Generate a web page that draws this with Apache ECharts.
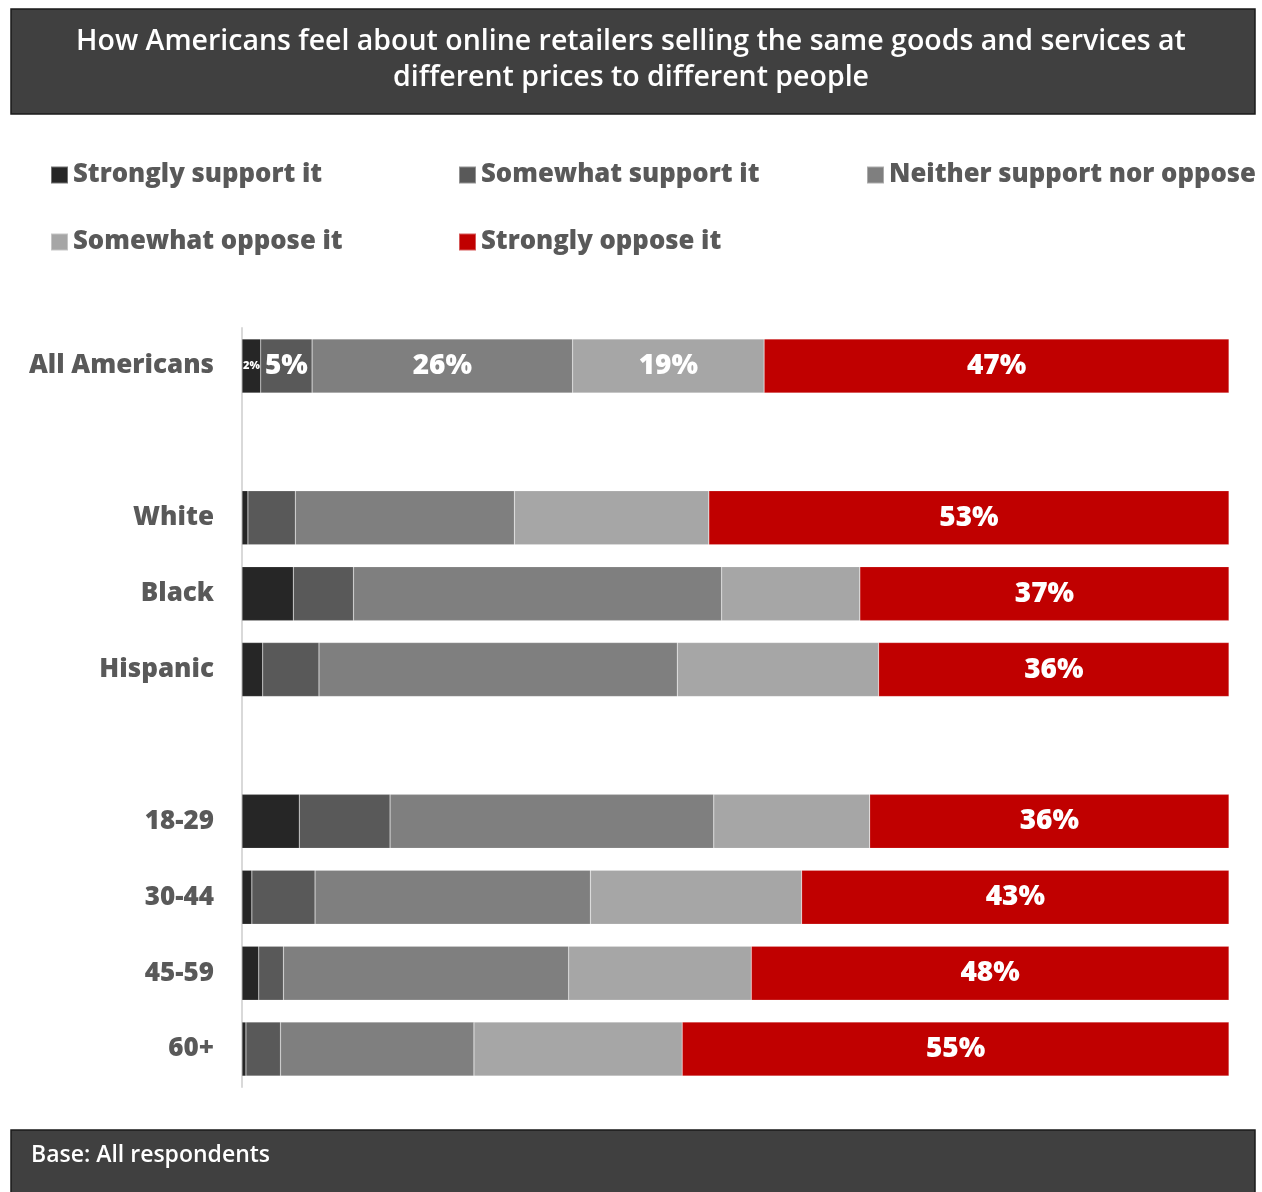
<!DOCTYPE html>
<html>
<head>
<meta charset="utf-8">
<script src="https://cdn.jsdelivr.net/npm/echarts@6/dist/echarts.min.js"></script>
<style>
  html, body { margin: 0; padding: 0; background: #fff; }
  #chart { width: 1262px; height: 1192px; }
</style>
</head>
<body>
<div id="chart"></div>
<script>
// rows top to bottom, '' rows are spacers between groups
const categories = ["All Americans", "", "White", "Black", "Hispanic", "", "18-29", "30-44", "45-59", "60+"];
const seriesNames = ["Strongly support it", "Somewhat support it", "Neither support nor oppose", "Somewhat oppose it", "Strongly oppose it"];
const colors = ["#262626", "#595959", "#7f7f7f", "#a6a6a6", "#c00000"];

const stronglySupport = [1.9, null, 0.6, 5.2, 2.1, null, 5.8, 1.0, 1.7, 0.4];
const somewhatSupport = [5.2, null, 4.8, 6.1, 5.7, null, 9.2, 6.4, 2.5, 3.5];
const neither = [26.4, null, 22.2, 37.3, 36.3, null, 32.8, 27.9, 28.9, 19.6];
const somewhatOppose = [19.4, null, 19.7, 14.0, 20.4, null, 15.8, 21.4, 18.5, 21.1];
const stronglyOppose = [47.1, null, 52.7, 37.4, 35.5, null, 36.4, 43.3, 48.4, 55.4];

// rows where every segment gets a value label (the last series is always labelled)
const showAllRow = [0];

const font = "'Open Sans', Lato, sans-serif";

const allData = [stronglySupport, somewhatSupport, neither, somewhatOppose, stronglyOppose];

const series = allData.map((vals, si) => ({
  name: seriesNames[si],
  type: "bar",
  stack: "total",
  barWidth: 54,
  itemStyle: { color: colors[si], borderColor: "rgba(255,255,255,0.35)", borderWidth: 0.5 },
  data: vals.map((v, ri) => {
    const show = v != null && (si === 4 || showAllRow.includes(ri));
    return {
      value: v == null ? "-" : v,
      label: {
        show: show,
        position: "inside",
        color: "#fff",
        fontFamily: font,
        fontWeight: 800,
        fontSize: v != null && v < 3 ? 11 : 28,
        formatter: p => Math.round(p.value) + "%",
      },
    };
  }),
}));

const legendPos = [
  { left: 50, top: 159 },
  { left: 458, top: 159 },
  { left: 866, top: 159 },
  { left: 50, top: 226 },
  { left: 458, top: 226 },
];

const option = {
  animation: false,
  color: colors,
  graphic: [
    {
      type: "rect",
      shape: { x: 11, y: 9, width: 1244, height: 105 },
      style: { fill: "#404040", stroke: "#1a1a1a", lineWidth: 1.5 },
      z: -1,
    },
    {
      type: "rect",
      shape: { x: 11, y: 1130, width: 1244, height: 70 },
      style: { fill: "#404040", stroke: "#1a1a1a", lineWidth: 1.5 },
      z: -1,
    },
    {
      type: "text",
      left: 31,
      top: 1144,
      style: { text: "Base: All respondents", fill: "#fff", font: "600 23px " + font },
    },
  ],
  title: {
    text: "How Americans feel about online retailers selling the same goods and services at\ndifferent prices to different people",
    left: "center",
    top: 19,
    textStyle: {
      color: "#fff",
      fontFamily: font,
      fontWeight: 600,
      fontSize: 28.5,
      lineHeight: 36,
    },
  },
  legend: legendPos.map((p, i) => ({
    data: [seriesNames[i]],
    left: p.left,
    top: p.top,
    padding: 0,
    icon: "rect",
    itemWidth: 17,
    itemHeight: 17,
    itemGap: 6,
    selectedMode: false,
    textStyle: {
      color: "#595959",
      fontFamily: font,
      fontWeight: 800,
      fontSize: 25.7,
      lineHeight: 32,
      padding: [0, 0, 0, 0],
    },
  })),
  grid: { left: 242, right: 33, top: 328, bottom: 105 },
  xAxis: {
    type: "value",
    min: 0,
    max: 100,
    show: false,
  },
  yAxis: {
    type: "category",
    inverse: true,
    data: categories,
    axisTick: { show: false },
    axisLine: { lineStyle: { color: "#d9d9d9", width: 2 } },
    axisLabel: {
      margin: 28,
      color: "#595959",
      fontFamily: font,
      fontWeight: 800,
      fontSize: 26,
    },
  },
  series: series,
};

const myChart = echarts.init(document.getElementById("chart"));
myChart.setOption(option);
</script>
</body>
</html>
